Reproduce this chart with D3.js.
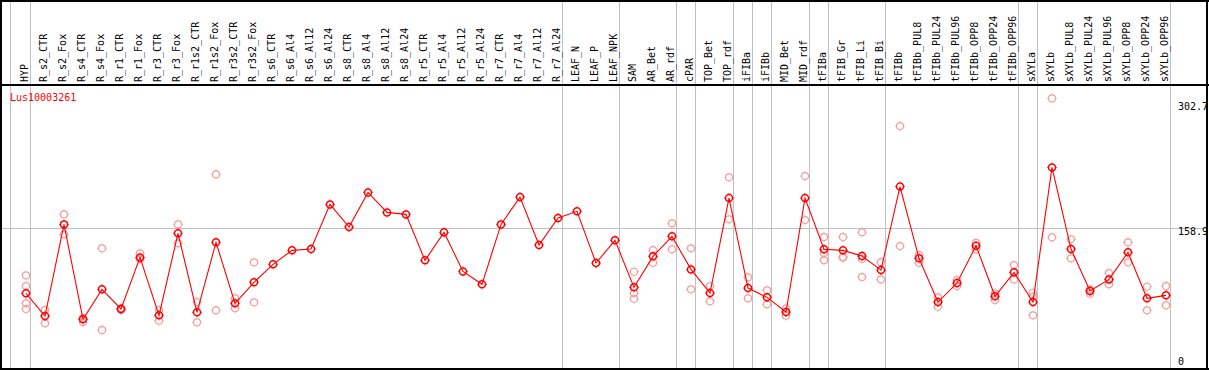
<!DOCTYPE html>
<html><head><meta charset="utf-8">
<script src="https://cdn.jsdelivr.net/npm/d3@7"></script>
<style>
html,body{margin:0;padding:0;background:#fff;}
svg{display:block;}
text{font-family:"DejaVu Sans Mono","Liberation Mono",monospace;font-size:10px;}
</style></head><body>
<svg id="c" width="1209" height="370"></svg>
<script>
const title = "Lus10003261";
const categories = ["HYP","R_s2_CTR","R_s2_Fox","R_s4_CTR","R_s4_Fox","R_r1_CTR","R_r1_Fox","R_r3_CTR","R_r3_Fox","R_r1s2_CTR","R_r1s2_Fox","R_r3s2_CTR","R_r3s2_Fox","R_s6_CTR","R_s6_Al4","R_s6_Al12","R_s6_Al24","R_s8_CTR","R_s8_Al4","R_s8_Al12","R_s8_Al24","R_r5_CTR","R_r5_Al4","R_r5_Al12","R_r5_Al24","R_r7_CTR","R_r7_Al4","R_r7_Al12","R_r7_Al24","LEAF_N","LEAF_P","LEAF_NPK","SAM","AR_Bet","AR_rdf","cPAR","TOP_Bet","TOP_rdf","iFIBa","iFIBb","MID_Bet","MID_rdf","tFIBa","tFIB_Gr","tFIB_Li","tFIB_Bi","tFIBb","tFIBb_PUL8","tFIBb_PUL24","tFIBb_PUL96","tFIBb_OPP8","tFIBb_OPP24","tFIBb_OPP96","sXYLa","sXYLb","sXYLb_PUL8","sXYLb_PUL24","sXYLb_PUL96","sXYLb_OPP8","sXYLb_OPP24","sXYLb_OPP96"];
const meanValues = [83.6,57.5,163.0,53.7,88.2,65.6,125.0,58.3,152.7,61.8,142.3,72.1,96.3,117.0,133.1,134.6,186.0,159.9,199.8,176.8,174.5,121.6,153.8,108.9,94.0,163.0,194.4,139.2,170.3,178.0,118.5,144.6,90.5,126.2,149.2,111.2,84.0,193.3,89.7,79.0,62.1,193.3,134.3,133.1,126.5,110.4,206.5,123.9,73.6,95.5,138.4,80.2,107.8,73.6,228.6,134.6,86.3,99.7,130.8,77.9,81.3];
const replicateValues = [
 [104.3,92.0,72.1,65.6],[64.4,49.1],[174.5,151.5],[55.2,50.6],[135.4,41.4],[66.7,64.4],[129.6,123.1],[64.4,52.1],[163.0,141.2],[73.6,50.3],[220.5,64.1],[77.9,66.4],[119.3,73.3],
 [],[],[],[],[],[],[],[],[],[],[],[],[],[],[],[],[],[],[],
 [108.5,83.6,77.4],[133.4,118.8],[164.2,134.3],[135.4,88.2],[92.0,74.4],[217.1,168.8],[102.0,77.9],[87.1,71.0],[66.4,57.9],[218.6,168.0],
 [148.4,130.0,121.6],[148.4,125.7,124.6],[153.8,123.4,102.4],[119.6,99.7],[276.1,138.0],[127.7,118.8],[79.0,68.2],[98.9,92.0],[141.8,134.3],[83.6,75.9],[116.2,99.7],
 [84.3,79.7,58.3],[308.0,148.1],[145.8,123.9],[88.2,83.2],[107.0,94.0],[142.4,119.3],[91.2,64.1],[92.0,69.8]
];
const groupEnds = ["HYP","R_r7_Al24","LEAF_NPK","AR_rdf","cPAR","TOP_rdf","iFIBa","iFIBb","MID_rdf","tFIBa","tFIB_Bi","tFIBb_OPP96","sXYLa","sXYLb_OPP96"];
const yTicks = [0, 158.9, 302.7];
const yGrid = [158.9];

const W = 1209, H = 370;
const svg = d3.select("#c");
const x = d3.scalePoint().domain(categories).range([26, 1166]);
const y = d3.scaleLinear().domain([0, 302.7]).range([366, 103]);
const headerY = 85, bottomY = 369;

svg.append("rect").attr("x",0).attr("y",0).attr("width",W).attr("height",H).attr("fill","#fff");

// horizontal grid
svg.selectAll(".hg").data(yGrid).enter().append("line")
  .attr("x1",1).attr("x2",1207).attr("y1",d=>Math.round(y(d))+0.5).attr("y2",d=>Math.round(y(d))+0.5)
  .attr("stroke","#c0c0c0").attr("stroke-width",1);

// vertical group separators
svg.append("line").attr("x1",10.5).attr("x2",10.5).attr("y1",0).attr("y2",bottomY).attr("stroke","#c0c0c0");
svg.selectAll(".vg").data(groupEnds).enter().append("line")
  .attr("x1",d=>Math.round(x(d))+4.5).attr("x2",d=>Math.round(x(d))+4.5)
  .attr("y1",0).attr("y2",bottomY).attr("stroke","#c0c0c0").attr("stroke-width",1);

// frame lines
const frame = svg.append("g").attr("stroke","#000").attr("stroke-width",2).attr("fill","none");
frame.append("line").attr("x1",0).attr("x2",W).attr("y1",1).attr("y2",1);
frame.append("line").attr("x1",0).attr("x2",W).attr("y1",headerY).attr("y2",headerY);
frame.append("line").attr("x1",0).attr("x2",W).attr("y1",bottomY).attr("y2",bottomY);
frame.append("line").attr("x1",1).attr("x2",1).attr("y1",0).attr("y2",H);
frame.append("line").attr("x1",1207).attr("x2",1207).attr("y1",0).attr("y2",H);

// category labels (rotated)
svg.selectAll(".cl").data(categories).enter().append("text")
  .attr("transform",d=>`translate(${x(d)+2},82) rotate(-90)`)
  .attr("text-anchor","start").attr("fill","#000").text(d=>d);

// y axis labels
svg.selectAll(".yl").data(yTicks).enter().append("text")
  .attr("x",1178).attr("y",d=> d===0 ? y(d)-1 : y(d)+7)
  .attr("fill","#000").text(d=>d===0?"0":d.toFixed(1));

// title
svg.append("text").attr("x",10).attr("y",101).attr("fill","#ff0000").text(title);

function gear(g, cx, cy, color, sw){
  g.append("circle").attr("cx",cx).attr("cy",cy).attr("r",3.5).attr("fill","none").attr("stroke",color).attr("stroke-width",sw);
  g.append("path").attr("d",`M${cx-5},${cy}h1M${cx+4},${cy}h1M${cx},${cy-5}v1M${cx},${cy+4}v1`)
    .attr("stroke",color).attr("stroke-width",0.8);
}

// replicates
const repG = svg.append("g");
categories.forEach((c,i)=>{
  replicateValues[i].forEach(v=>gear(repG, x(c), y(v), "#f0a0a0", 1.2));
});

// mean line
const line = d3.line().x((d,i)=>x(categories[i])).y(d=>y(d));
svg.append("path").datum(meanValues).attr("d",line).attr("fill","none").attr("stroke","#ff0000").attr("stroke-width",1.1);

// mean points
const mG = svg.append("g");
categories.forEach((c,i)=>gear(mG, x(c), y(meanValues[i]), "#ff0000", 1.5));
</script>
</body></html>
